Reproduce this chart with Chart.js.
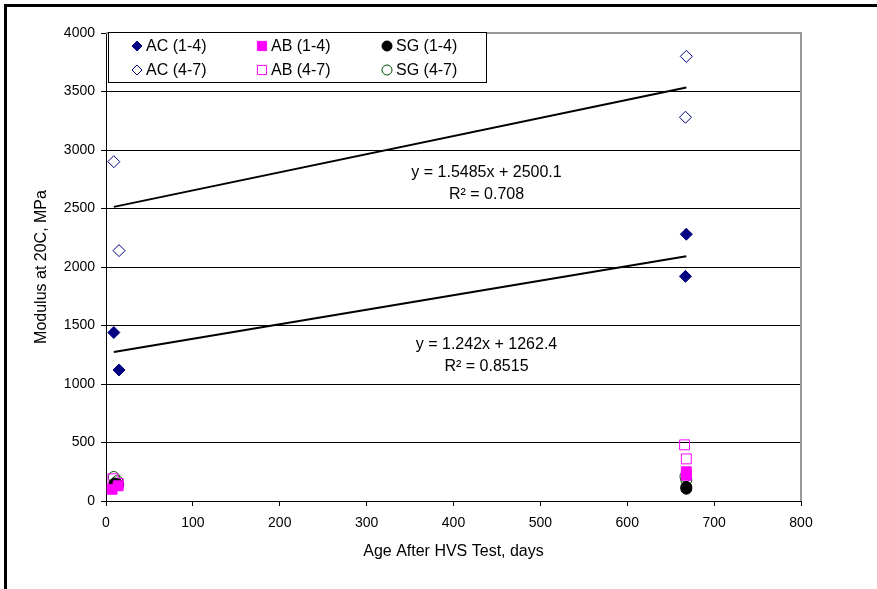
<!DOCTYPE html>
<html>
<head>
<meta charset="utf-8">
<script src="https://cdn.jsdelivr.net/npm/chart.js@4.4.1/dist/chart.umd.min.js"></script>
<style>
  html, body { margin: 0; padding: 0; background: #fff; }
  #wrap { width: 877px; height: 589px; }
</style>
</head>
<body>
<div id="wrap"><canvas id="modulusChart" width="877" height="589"></canvas></div>
<script>
// values (days after HVS test, modulus in MPa)
const acDays14 = [9, 15, 668, 667];
const acMod14 = [1440, 1120, 2280, 1920];
const acDays47 = [9, 15, 668, 667];
const acMod47 = [2900, 2140, 3800, 3280];
const abDays14 = [7, 14, 668, 668];
const abMod14 = [100, 130, 250, 220];
const abDays47 = [8, 14, 666, 668];
const abMod47 = [190, 150, 480, 360];
const sgDays14 = [10, 14, 668, 668];
const sgMod14 = [150, 140, 105, 120];
const sgDays47 = [9, 13, 667, 668];
const sgMod47 = [205, 170, 210, 180];

// trendline end points (first and last day of the AC series)
const trendDays = [9, 668];
const trendAC14 = [1273, 2092];
const trendAC47 = [2514, 3534];
const trendText14 = ["y = 1.242x + 1262.4", "R² = 0.8515"];
const trendText47 = ["y = 1.5485x + 2500.1", "R² = 0.708"];

const xTicks = [0, 100, 200, 300, 400, 500, 600, 700, 800];
const yTicks = [0, 500, 1000, 1500, 2000, 2500, 3000, 3500, 4000];

const FONT = '"Liberation Sans", Arial, sans-serif';
Chart.defaults.font.family = FONT;
Chart.defaults.color = "#000";

function toPoints(xs, ys) {
  return xs.map((x, i) => ({ x: x, y: ys[i] }));
}

function series(label, xs, ys, style, color, filled, radius) {
  return {
    type: "scatter",
    label: label,
    data: toPoints(xs, ys),
    pointStyle: style,
    pointRadius: radius,
    pointHoverRadius: radius,
    borderColor: color,
    backgroundColor: filled ? color : "rgba(0,0,0,0)",
    pointBorderWidth: 1
  };
}

function trend(xs, ys) {
  return {
    type: "line",
    label: "trend",
    data: toPoints(xs, ys),
    borderColor: "#000",
    borderWidth: 2,
    pointRadius: 0,
    fill: false
  };
}

const datasets = [
  series("AC (1-4)", acDays14, acMod14, "rectRot", "#000080", true, 6),
  series("AB (1-4)", abDays14, abMod14, "rect", "#ff00ff", true, 7),
  series("SG (1-4)", sgDays14, sgMod14, "circle", "#000000", true, 5.5),
  series("AC (4-7)", acDays47, acMod47, "rectRot", "#000080", false, 6),
  series("AB (4-7)", abDays47, abMod47, "rect", "#ff00ff", false, 7),
  series("SG (4-7)", sgDays47, sgMod47, "circle", "#005000", false, 5.5),
  trend(trendDays, trendAC14),
  trend(trendDays, trendAC47)
];

const framePlugin = {
  id: "frame",
  beforeDraw(chart) {
    const ctx = chart.ctx;
    ctx.save();
    ctx.fillStyle = "#fff";
    ctx.fillRect(0, 0, chart.width, chart.height);
    ctx.fillStyle = "#000";
    ctx.fillRect(4, 4, 3, chart.height);
    ctx.fillRect(4, 4, chart.width, 3);
    ctx.restore();
  },
  beforeDatasetsDraw(chart) {
    const { ctx, chartArea: a } = chart;
    ctx.save();
    ctx.strokeStyle = "#9a9a9a";
    ctx.lineWidth = 2;
    ctx.beginPath();
    ctx.moveTo(a.left, a.top);
    ctx.lineTo(a.right, a.top);
    ctx.lineTo(a.right, a.bottom);
    ctx.stroke();
    ctx.restore();
  }
};

const trendLabelPlugin = {
  id: "trendLabels",
  afterDatasetsDraw(chart) {
    const { ctx, scales } = chart;
    const cx = scales.x.getPixelForValue(438);
    ctx.save();
    ctx.font = "16px " + FONT;
    ctx.fillStyle = "#000";
    ctx.textAlign = "center";
    ctx.textBaseline = "middle";
    const top47 = scales.y.getPixelForValue(2805);
    ctx.fillText(trendText47[0], cx, top47);
    ctx.fillText(trendText47[1], cx, top47 + 22);
    const top14 = scales.y.getPixelForValue(1335);
    ctx.fillText(trendText14[0], cx, top14);
    ctx.fillText(trendText14[1], cx, top14 + 22);
    ctx.restore();
  }
};

const legendPlugin = {
  id: "boxLegend",
  afterDraw(chart) {
    const ctx = chart.ctx;
    const cols = [137, 262, 387];
    const rows = [46, 70];
    ctx.save();
    ctx.fillStyle = "#fff";
    ctx.fillRect(108, 32, 378, 50);
    ctx.strokeStyle = "#000";
    ctx.lineWidth = 1;
    ctx.strokeRect(108.5, 32.5, 378, 50);
    ctx.font = "16px " + FONT;
    ctx.textBaseline = "middle";
    ctx.textAlign = "left";
    for (let i = 0; i < 6; i++) {
      const ds = chart.data.datasets[i];
      const x = cols[i % 3];
      const y = rows[Math.floor(i / 3)];
      ctx.fillStyle = ds.backgroundColor;
      ctx.strokeStyle = ds.borderColor;
      ctx.lineWidth = 1;
      const r = ds.pointStyle === "rect" ? 6.5 : 5;
      Chart.helpers.drawPoint(ctx, { pointStyle: ds.pointStyle, radius: r, rotation: 0, borderWidth: 1 }, x, y);
      ctx.fillStyle = "#000";
      ctx.fillText(ds.label, x + 9, y + 1);
    }
    ctx.restore();
  }
};

new Chart(document.getElementById("modulusChart").getContext("2d"), {
  data: { datasets: datasets },
  options: {
    responsive: false,
    animation: false,
    devicePixelRatio: 1,
    layout: { padding: { top: 33, right: 76, left: 0, bottom: 0 } },
    plugins: {
      legend: { display: false },
      tooltip: { enabled: false }
    },
    scales: {
      x: {
        type: "linear",
        min: 0,
        max: 800,
        afterFit(scale) { scale.height = 88; },
        afterBuildTicks(scale) { scale.ticks = xTicks.map(v => ({ value: v })); },
        ticks: { font: { size: 14 }, padding: 9, maxRotation: 0, callback: v => v },
        grid: { drawOnChartArea: false, drawTicks: true, tickLength: 5, color: "#000" },
        border: { color: "#000", width: 1 },
        title: { display: true, text: "Age After HVS Test, days", font: { size: 16 }, padding: { top: 4, bottom: 28 } }
      },
      y: {
        type: "linear",
        min: 0,
        max: 4000,
        afterFit(scale) { scale.width = 106; },
        afterBuildTicks(scale) { scale.ticks = yTicks.map(v => ({ value: v })); },
        ticks: { font: { size: 14 }, padding: 6, callback: v => v },
        grid: { drawTicks: true, tickLength: 5, color: "#000", lineWidth: 1 },
        border: { color: "#000", width: 1 },
        title: { display: true, text: "Modulus at 20C, MPa", font: { size: 16 }, padding: { top: 32, bottom: 0 } }
      }
    }
  },
  plugins: [framePlugin, trendLabelPlugin, legendPlugin]
});
</script>
</body>
</html>
